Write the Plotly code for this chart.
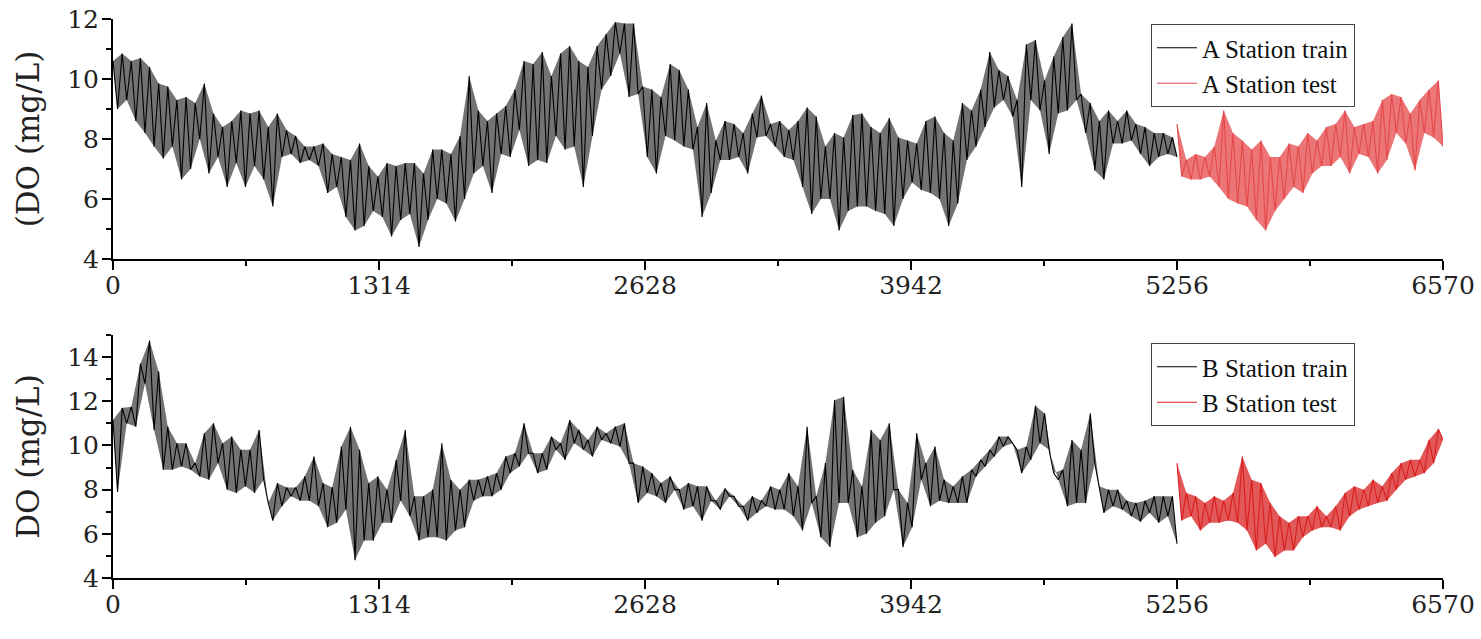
import numpy as np
import plotly.graph_objects as go

# DO readings (mg/L) taken off the figure: upper / lower extent of the trace
# in consecutive time windows (train: 117 windows over 0-5256, test: 29 over 5256-6570)
a_train_hi = [10.6, 10.85, 10.6, 10.7, 10.4, 9.85, 9.75, 9.3, 9.4, 9.2,
              9.85, 8.85, 8.4, 8.6, 8.95, 8.85, 8.95, 8.4, 8.85, 8.3,
              8.1, 7.75, 7.75, 7.85, 7.5, 7.4, 7.3, 7.85, 7.1, 6.75,
              7.2, 7.1, 7.2, 7.2, 6.85, 7.65, 7.65, 7.5, 8.1, 10.1,
              8.95, 8.6, 8.85, 9.1, 9.65, 10.6, 10.5, 10.9, 10.1, 10.85,
              11.1, 10.6, 10.4, 11.1, 11.5, 11.9, 11.85, 11.85, 9.75, 9.65,
              9.4, 10.5, 10.3, 9.65, 8.4, 9.2, 7.95, 8.6, 8.5, 8.2,
              8.85, 9.45, 8.5, 8.6, 8.3, 8.6, 9.05, 8.75, 7.75, 8.2,
              8.05, 8.8, 8.85, 8.4, 8.2, 8.7, 8.05, 7.95, 7.85, 8.6,
              8.75, 8.2, 7.95, 9.2, 8.95, 9.65, 10.9, 10.3, 10.1, 9.3,
              11.15, 11.3, 9.95, 10.75, 11.4, 11.85, 9.5, 9.2, 8.6, 8.95,
              8.6, 8.95, 8.5, 8.4, 8.2, 8.2, 8.05]
a_train_lo = [9.0, 9.3, 8.6, 8.2, 7.75, 7.35, 7.75, 6.65, 7.0, 8.0,
              6.85, 7.4, 6.4, 7.2, 6.4, 7.1, 6.65, 5.75, 7.4, 7.5,
              7.2, 7.3, 7.1, 6.2, 6.4, 5.4, 4.95, 5.1, 5.6, 5.4,
              4.75, 5.3, 5.5, 4.4, 5.3, 6.0, 5.85, 5.25, 6.0, 6.85,
              7.1, 6.2, 7.5, 7.4, 8.3, 7.1, 7.3, 7.2, 8.1, 7.65,
              7.75, 6.4, 8.1, 9.65, 10.1, 10.85, 9.4, 9.5, 7.4, 6.85,
              8.1, 7.95, 7.75, 7.65, 5.4, 6.2, 7.3, 7.3, 7.4, 6.85,
              8.05, 8.1, 7.75, 7.4, 7.3, 6.4, 5.5, 6.0, 6.0, 4.95,
              5.6, 5.75, 5.75, 5.6, 5.5, 5.1, 6.0, 6.55, 6.3, 6.2,
              6.0, 5.1, 5.85, 7.3, 7.75, 8.4, 9.05, 9.3, 8.75, 6.4,
              9.3, 8.95, 7.5, 8.85, 8.95, 9.3, 8.2, 6.95, 6.65, 7.85,
              7.85, 7.95, 7.5, 7.1, 7.4, 7.5, 7.4]
a_test_hi = [8.5, 7.3, 7.5, 7.4, 7.75, 8.95, 8.2, 7.95, 7.65, 7.95,
             7.4, 7.4, 7.85, 7.75, 8.2, 7.95, 8.4, 8.5, 8.95, 8.4,
             8.5, 8.6, 9.3, 9.5, 9.4, 8.85, 9.3, 9.65, 9.95]
a_test_lo = [6.75, 6.65, 6.65, 6.75, 6.4, 6.0, 5.85, 5.75, 5.3, 4.95,
             5.6, 6.0, 6.4, 6.2, 6.85, 7.1, 7.1, 7.4, 6.85, 7.5,
             7.4, 6.85, 7.3, 8.2, 7.85, 6.95, 8.2, 8.05, 7.75]

b_train_hi = [11.15, 11.7, 11.75, 13.7, 14.75, 13.35, 10.85, 10.1, 10.1, 9.2,
              10.55, 11.0, 10.1, 10.4, 9.8, 9.8, 10.7, 7.4, 8.3, 8.1,
              8.1, 8.6, 9.5, 8.3, 8.1, 9.95, 10.85, 9.8, 8.3, 8.6,
              8.0, 9.35, 10.7, 7.7, 7.7, 8.0, 10.1, 8.45, 8.0, 8.45,
              8.45, 8.6, 8.75, 9.5, 9.65, 11.0, 9.65, 9.65, 10.4, 10.1,
              11.15, 10.7, 10.25, 10.85, 10.55, 10.85, 11.0, 9.2, 9.05, 8.75,
              8.3, 8.6, 8.0, 8.3, 8.15, 8.15, 7.5, 8.05, 7.7, 7.25,
              7.7, 7.5, 8.15, 8.0, 8.75, 8.15, 10.85, 7.7, 9.2, 12.05,
              12.2, 8.9, 8.15, 10.7, 10.25, 11.0, 8.0, 7.4, 10.55, 9.2,
              9.95, 8.45, 8.15, 8.6, 8.9, 9.35, 9.8, 10.4, 10.4, 9.8,
              9.95, 11.8, 11.45, 8.75, 8.9, 10.25, 9.8, 11.45, 8.15, 8.0,
              8.0, 7.5, 7.4, 7.5, 7.7, 7.7, 7.7]
b_train_lo = [7.9, 11.0, 10.85, 12.8, 10.7, 8.9, 8.9, 9.05, 8.9, 8.6,
              8.45, 9.2, 8.0, 7.85, 8.15, 7.85, 8.45, 6.6, 7.25, 7.7,
              7.5, 7.5, 7.25, 6.3, 6.5, 7.1, 4.8, 5.7, 5.7, 6.5,
              6.5, 7.5, 6.8, 5.7, 5.85, 5.85, 5.7, 6.15, 6.3, 7.5,
              7.7, 7.7, 8.0, 8.75, 9.05, 9.65, 8.75, 8.9, 9.8, 9.35,
              10.1, 9.8, 9.5, 10.25, 10.1, 9.95, 9.2, 7.4, 7.85, 7.7,
              7.4, 8.0, 7.1, 7.25, 6.6, 7.5, 7.1, 7.7, 7.25, 6.6,
              6.95, 7.25, 7.1, 7.1, 6.8, 6.15, 7.4, 5.85, 5.4, 7.4,
              7.4, 5.85, 6.0, 6.5, 6.8, 8.0, 5.4, 6.3, 8.45, 7.25,
              7.5, 7.4, 7.4, 7.4, 8.6, 9.05, 9.5, 9.95, 10.1, 8.75,
              9.35, 10.1, 9.8, 8.45, 7.25, 7.4, 7.4, 9.2, 6.95, 7.25,
              7.1, 6.8, 6.55, 6.95, 6.5, 6.8, 5.55]
b_test_hi = [9.2, 7.85, 7.7, 7.4, 7.7, 7.5, 7.85, 9.5, 8.45, 8.3,
             7.4, 6.8, 6.5, 6.8, 6.8, 7.25, 6.8, 7.25, 7.85, 8.15,
             8.0, 8.45, 8.15, 8.75, 9.2, 9.35, 9.35, 10.25, 10.75]
b_test_lo = [6.6, 6.8, 6.15, 6.5, 6.5, 6.6, 6.5, 6.15, 5.25, 5.55,
             4.95, 5.25, 5.25, 5.85, 6.15, 6.3, 6.3, 6.15, 6.8, 7.1,
             7.25, 7.4, 7.5, 8.0, 8.45, 8.6, 8.75, 9.2, 10.25]

N_TOTAL = 6570
SPLIT = 5256
x_ticks = [0, 1314, 2628, 3942, 5256, 6570]

SERIF = "DejaVu Serif"
TIMES = "Liberation Serif"


def zigzag(hi, lo, start, end):
    # alternate the upper and lower readings of each window along the time axis
    y = np.empty(2 * len(hi))
    y[0::2] = hi
    y[1::2] = lo
    x = np.linspace(start, end, len(y))
    return x, y


fig = go.Figure()

panels = [
    ("A", a_train_hi, a_train_lo, a_test_hi, a_test_lo, "#e5484a", "229,72,74", "x", "y", "legend"),
    ("B", b_train_hi, b_train_lo, b_test_hi, b_test_lo, "#d81f1f", "216,31,31", "x2", "y2", "legend2"),
]
for name, thi, tlo, shi, slo, red, rgb, xa, ya, leg in panels:
    for hi, lo, x0, x1, col, fillcol, label in [
        (thi, tlo, 0, SPLIT, "#000000", "rgba(0,0,0,0.55)", "train"),
        (shi, slo, SPLIT, N_TOTAL, red, f"rgba({rgb},0.75)", "test"),
    ]:
        x, y = zigzag(hi, lo, x0, x1)
        # shaded envelope of the window readings
        fig.add_trace(go.Scatter(x=np.concatenate([x[0::2], x[1::2][::-1]]),
                                 y=np.concatenate([y[0::2], y[1::2][::-1]]),
                                 mode="none", fill="toself", fillcolor=fillcol,
                                 showlegend=False, hoverinfo="skip",
                                 xaxis=xa, yaxis=ya))
        fig.add_trace(go.Scatter(x=x, y=y, mode="lines", name=f"{name} Station {label}",
                                 line=dict(color=col, width=1.1),
                                 xaxis=xa, yaxis=ya, legend=leg))

W, H = 1481, 639
x_dom = [113 / W, 1443 / W]

common_x = dict(
    range=[0, N_TOTAL], tickvals=x_ticks, ticktext=[str(v) for v in x_ticks],
    showline=True, linecolor="black", linewidth=2, mirror=False,
    ticks="outside", ticklen=9, tickwidth=2, tickcolor="black",
    minor=dict(ticks="outside", ticklen=5, tickwidth=2, tickcolor="black", dtick=657, tick0=0),
    showgrid=False, zeroline=False, domain=x_dom, automargin=False,
    tickfont=dict(family=SERIF, size=25, color="#222"),
    ticklabelstandoff=-6,
)
common_y = dict(
    showline=True, linecolor="black", linewidth=2, mirror=False,
    ticks="outside", ticklen=9, tickwidth=2, tickcolor="black",
    minor=dict(ticks="outside", ticklen=5, tickwidth=2, tickcolor="black", dtick=1),
    showgrid=False, zeroline=False, dtick=2, tick0=4, automargin=False,
    tickfont=dict(family=SERIF, size=25, color="#222"),
    ticklabelstandoff=-2,
    title_font=dict(family=SERIF, size=31, color="#222"),
    title_standoff=18,
)

legend_style = dict(xanchor="left", yanchor="top", bgcolor="white",
                    bordercolor="#444", borderwidth=1,
                    font=dict(family=TIMES, size=25, color="#111"),
                    tracegroupgap=0, itemwidth=40)

fig.update_layout(
    width=W, height=H,
    margin=dict(l=0, r=0, t=0, b=0),
    paper_bgcolor="white", plot_bgcolor="white",
    xaxis=dict(common_x, anchor="y"),
    yaxis=dict(common_y, range=[4, 12], anchor="x",
               domain=[1 - 259 / H, 1 - 19 / H], title_text="(DO (mg/L)"),
    xaxis2=dict(common_x, anchor="y2"),
    yaxis2=dict(common_y, range=[4, 15], anchor="x2",
                domain=[1 - 578 / H, 1 - 335 / H], title_text="DO (mg/L)"),
    legend=dict(legend_style, x=1151 / W, y=1 - 24 / H),
    legend2=dict(legend_style, x=1151 / W, y=1 - 343 / H),
    showlegend=True,
)

# drop the default page margin so the figure fills the window
fig.write_html("out.html", config={"displayModeBar": False},
               post_script="document.body.style.margin='0';")
